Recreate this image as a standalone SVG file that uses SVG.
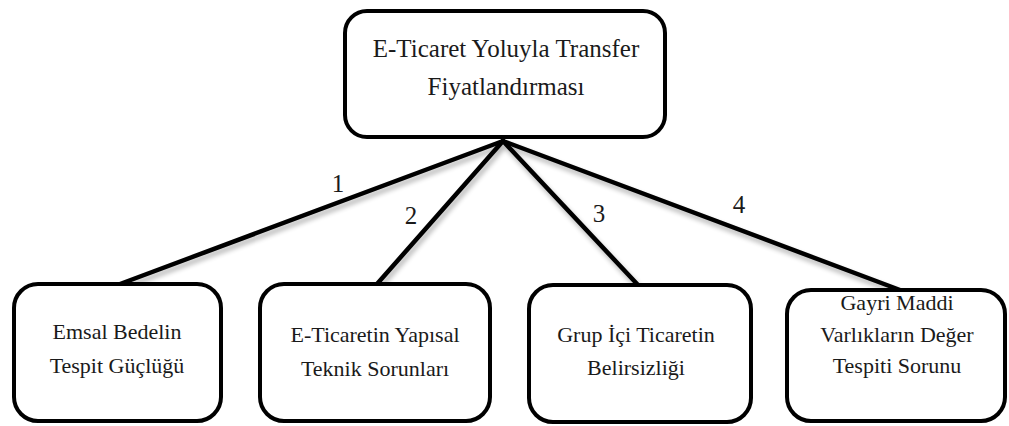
<svg xmlns="http://www.w3.org/2000/svg" width="1009" height="426" viewBox="0 0 1009 426">
  <defs>
    <!-- soft shadow under connectors -->
    <filter id="soft" x="-10%" y="-10%" width="130%" height="140%">
      <feGaussianBlur in="SourceAlpha" stdDeviation="2.5"/>
      <feOffset dx="2" dy="4" result="b"/>
      <feComponentTransfer><feFuncA type="linear" slope="0.3"/></feComponentTransfer>
      <feMerge><feMergeNode/><feMergeNode in="SourceGraphic"/></feMerge>
    </filter>
  </defs>
  <style>
    .box { fill: #ffffff; stroke: #000000; stroke-width: 4; }
    .link { stroke: #000000; stroke-width: 4.5; stroke-linecap: round; fill: none; }
    .t { font-family: "Liberation Serif", "Times New Roman", serif; fill: #1a1a1a; text-anchor: middle; }
    .title { font-size: 25px; }
    .lbl { font-size: 22px; }
    .num { font-size: 25px; }
  </style>
  <rect width="1009" height="426" fill="#ffffff"/>

  <!-- connectors from the root to the four branches -->
  <g id="connectors" filter="url(#soft)">
    <line class="link" x1="503" y1="141" x2="120" y2="284"/>
    <line class="link" x1="503" y1="141" x2="377" y2="284"/>
    <line class="link" x1="503" y1="141" x2="638" y2="285"/>
    <line class="link" x1="503" y1="141" x2="900" y2="290"/>
  </g>
  <g id="edge-labels">
    <text class="t num" x="338" y="192">1</text>
    <text class="t num" x="411" y="224">2</text>
    <text class="t num" x="599" y="222">3</text>
    <text class="t num" x="739" y="213">4</text>
  </g>

  <g id="root">
    <rect class="box" x="345" y="11" width="320" height="126" rx="22"/>
    <text class="t title" x="506" y="57">E-Ticaret Yoluyla Transfer</text>
    <text class="t title" x="506" y="95">Fiyatlandırması</text>
  </g>

  <g id="emsal">
    <rect class="box" x="14" y="284" width="207" height="137" rx="24"/>
    <text class="t lbl" x="117" y="339">Emsal Bedelin</text>
    <text class="t lbl" x="117" y="373">Tespit Güçlüğü</text>
  </g>

  <g id="yapisal">
    <rect class="box" x="260" y="284" width="230" height="137" rx="24"/>
    <text class="t lbl" x="375" y="342">E-Ticaretin Yapısal</text>
    <text class="t lbl" x="375" y="376">Teknik Sorunları</text>
  </g>

  <g id="grup">
    <rect class="box" x="529" y="285" width="222" height="137" rx="24"/>
    <text class="t lbl" x="636" y="342">Grup İçi Ticaretin</text>
    <text class="t lbl" x="636" y="375">Belirsizliği</text>
  </g>

  <g id="gayri">
    <rect class="box" x="787" y="290" width="218" height="131" rx="24"/>
    <text class="t lbl" x="897" y="310">Gayri Maddi</text>
    <text class="t lbl" x="897" y="342">Varlıkların Değer</text>
    <text class="t lbl" x="897" y="373">Tespiti Sorunu</text>
  </g>
</svg>
